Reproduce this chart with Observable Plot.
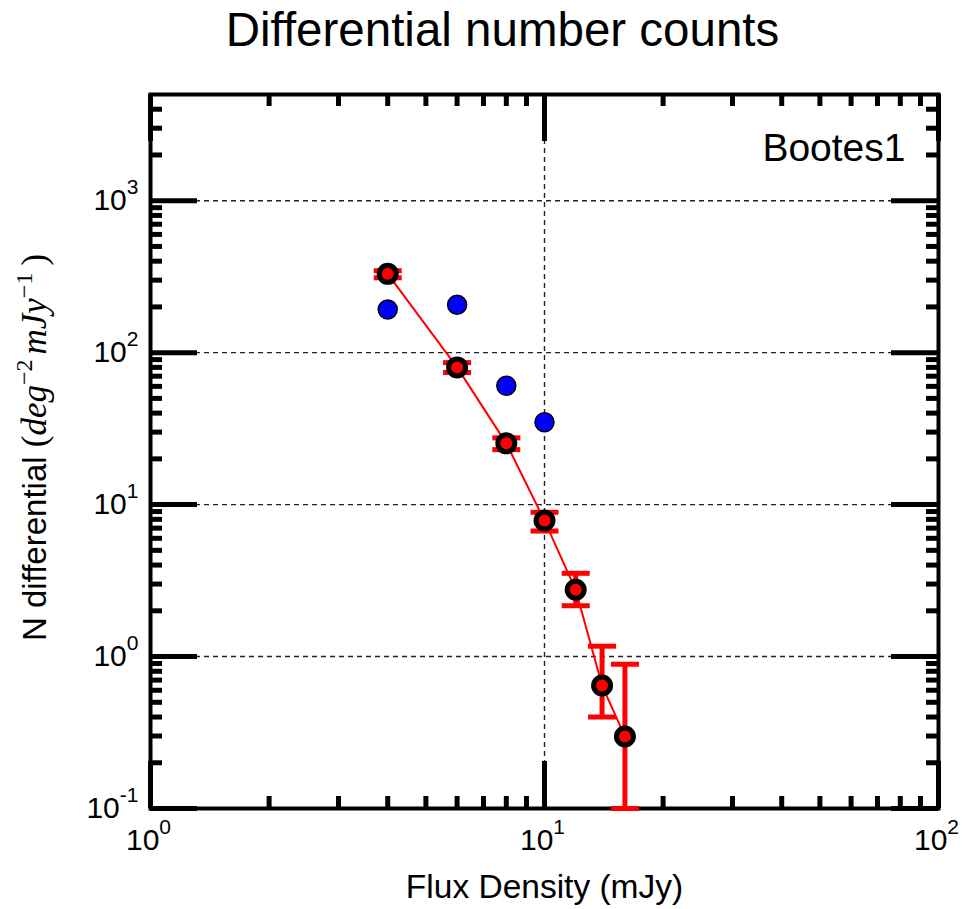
<!DOCTYPE html>
<html><head><meta charset="utf-8">
<script src="https://cdn.jsdelivr.net/npm/d3@7"></script>
<script src="https://cdn.jsdelivr.net/npm/@observablehq/plot@0.6"></script>
<style>body{margin:0;background:#fff;} svg{display:block;}</style>
</head><body><div id="chart"></div>
<script>
// ---- data ----
const fluxRed   = [4, 6, 8, 10, 12, 14, 16];
const countsRed = [330, 80, 25.3, 7.85, 2.75, 0.644, 0.298];
const errLow    = [311, 74, 23.0, 6.7, 2.16, 0.40, 0.10];
const errHigh   = [346, 86, 27.5, 8.9, 3.53, 1.17, 0.89];
const fluxBlue   = [4, 6, 8, 10];
const countsBlue = [192, 207, 60.6, 34.8];
const xMajor = [1, 10, 100];
const yMajor = [0.1, 1, 10, 100, 1000];
const xMinor = [2, 3, 4, 5, 6, 7, 8, 9, 20, 30, 40, 50, 60, 70, 80, 90];
const yMinor = [0.2,0.3,0.4,0.5,0.6,0.7,0.8,0.9, 2,3,4,5,6,7,8,9, 20,30,40,50,60,70,80,90, 200,300,400,500,600,700,800,900, 2000,3000,4000];
const xGrid = [10];
const yGrid = [1, 10, 100, 1000];
const titleText = "Differential number counts";
const fieldName = "Bootes1";
const xLabel = "Flux Density (mJy)";
const yLabel = "N differential";

const redData = fluxRed.map((x, i) => ({x, y: countsRed[i], lo: errLow[i], hi: errHigh[i]}));
const blueData = fluxBlue.map((x, i) => ({x, y: countsBlue[i]}));

const W = 974, H = 909, mL = 150, mR = 36, mT = 94, mB = 101;
const FW = W - mL - mR, FH = H - mT - mB;
const MAJ = 47, MIN = 12;
const sans = "Liberation Sans, Arial, Helvetica, sans-serif";
const capSymbol = {draw(ctx, size) { const w = Math.sqrt(size / Math.PI); ctx.moveTo(-w, 0); ctx.lineTo(w, 0); }};

const chart = Plot.plot({
  width: W, height: H,
  marginLeft: mL, marginRight: mR, marginTop: mT, marginBottom: mB,
  style: {fontFamily: sans, background: "white", overflow: "visible"},
  x: {type: "log", domain: [1, 100], axis: null},
  y: {type: "log", domain: [0.1, 5000], axis: null},
  marks: [
    // grid
    Plot.ruleY(yGrid, {y: d => d, stroke: "#222", strokeWidth: 1.4, strokeDasharray: "5,4"}),
    Plot.ruleX(xGrid, {x: d => d, stroke: "#222", strokeWidth: 1.4, strokeDasharray: "5,4"}),
    Plot.frame({stroke: "black", strokeWidth: 4}),
    // inward ticks, all four sides
    Plot.tickX(xMinor, {x: d => d, insetTop: FH - MIN, stroke: "black", strokeWidth: 5}),
    Plot.tickX(xMinor, {x: d => d, insetBottom: FH - MIN, stroke: "black", strokeWidth: 5}),
    Plot.tickX(xMajor, {x: d => d, insetTop: FH - MAJ, stroke: "black", strokeWidth: 5}),
    Plot.tickX(xMajor, {x: d => d, insetBottom: FH - MAJ, stroke: "black", strokeWidth: 5}),
    Plot.tickY(yMinor, {y: d => d, insetRight: FW - MIN, stroke: "black", strokeWidth: 5}),
    Plot.tickY(yMinor, {y: d => d, insetLeft: FW - MIN, stroke: "black", strokeWidth: 5}),
    Plot.tickY(yMajor, {y: d => d, insetRight: FW - MAJ, stroke: "black", strokeWidth: 5}),
    Plot.tickY(yMajor, {y: d => d, insetLeft: FW - MAJ, stroke: "black", strokeWidth: 5}),
    // tick labels
    Plot.text(xMajor, {x: d => d, frameAnchor: "bottom", text: d => "10^" + Math.round(Math.log10(d)),
      fontSize: 30, textAnchor: "middle", lineAnchor: "middle", dy: 32, dx: -2, fill: "black"}),
    Plot.text(yMajor, {y: d => d, frameAnchor: "left", text: d => "10^" + Math.round(Math.log10(d)),
      fontSize: 30, textAnchor: "end", lineAnchor: "middle", dx: -12, fill: "black"}),
    // error bars
    Plot.ruleX(redData, {x: "x", y1: "lo", y2: "hi", stroke: "red", strokeWidth: 5}),
    Plot.dot(redData, {x: "x", y: "lo", symbol: capSymbol, r: 14, stroke: "red", strokeWidth: 5, fill: "none"}),
    Plot.dot(redData, {x: "x", y: "hi", symbol: capSymbol, r: 14, stroke: "red", strokeWidth: 5, fill: "none"}),
    // line + markers
    Plot.line(redData, {x: "x", y: "y", stroke: "red", strokeWidth: 2}),
    Plot.dot(redData, {x: "x", y: "y", r: 8.5, fill: "red", stroke: "black", strokeWidth: 5}),
    Plot.dot(blueData, {x: "x", y: "y", r: 9.5, fill: "#0000ff", stroke: "black", strokeWidth: 1.5}),
    // texts
    Plot.text([fieldName], {frameAnchor: "top-right", text: d => d, fontSize: 39, textAnchor: "end", lineAnchor: "middle", dx: -33, dy: 54, fill: "black"}),
    Plot.text([titleText], {frameAnchor: "top", text: d => d, fontSize: 47.5, textAnchor: "middle", lineAnchor: "middle", dx: -42, dy: -64, fill: "black"}),
    Plot.text([xLabel], {frameAnchor: "bottom", text: d => d, fontSize: 33.5, textAnchor: "middle", lineAnchor: "middle", dy: 79, fill: "black"}),
    Plot.text([yLabel], {frameAnchor: "left", text: d => d, fontSize: 33, textAnchor: "middle", lineAnchor: "middle", rotate: -90, dx: -115, dy: -4, fill: "black"})
  ]
});

const NS = "http://www.w3.org/2000/svg";
function tspan(parent, txt, attrs) {
  const t = document.createElementNS(NS, "tspan");
  for (const k in attrs) t.setAttribute(k, attrs[k]);
  t.textContent = txt;
  parent.appendChild(t);
  return t;
}
chart.querySelectorAll("text").forEach(t => {
  const s = t.textContent;
  if (s.includes("^")) {
    const [base, exp] = s.split("^");
    t.textContent = "";
    tspan(t, base, {});
    tspan(t, exp, {"font-size": 21, dy: -16});
  } else if (s === yLabel) {
    t.textContent = "";
    const serif = "Liberation Serif, Times New Roman, serif";
    tspan(t, s + " ", {});
    tspan(t, "(", {"font-family": serif, "font-size": 35});
    tspan(t, "deg", {"font-family": serif, "font-style": "italic", "font-size": 35});
    tspan(t, "\u22122", {"font-family": serif, "font-size": 24, dy: -14});
    tspan(t, "mJy", {"font-family": serif, "font-style": "italic", "font-size": 35, dy: 14, dx: 5});
    tspan(t, "\u22121", {"font-family": serif, "font-size": 24, dy: -14});
    tspan(t, ")", {"font-family": serif, "font-size": 35, dy: 14, dx: 7});
  }
});

document.getElementById("chart").appendChild(chart);
</script>
</body></html>
